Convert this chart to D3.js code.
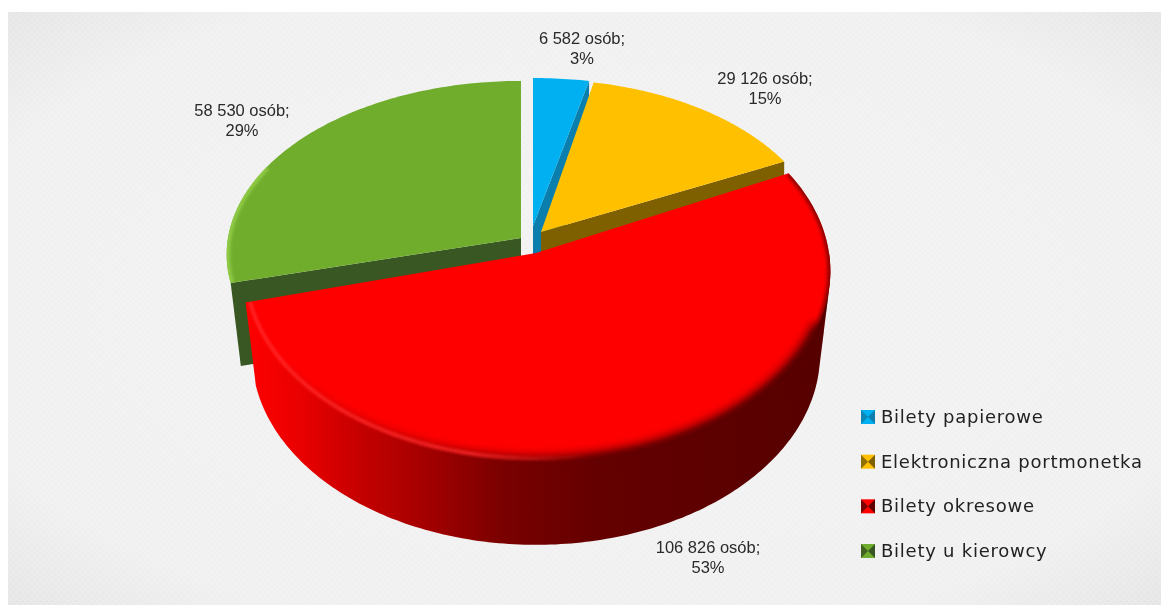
<!DOCTYPE html>
<html><head><meta charset="utf-8">
<script src="https://cdn.jsdelivr.net/npm/d3@7/dist/d3.min.js"></script>
<style>html,body{margin:0;padding:0;background:#fff;overflow:hidden}svg{display:block}</style>
</head><body><svg id="c" width="1161" height="605"></svg>
<script>
const categories = ["Bilety papierowe","Elektroniczna portmonetka","Bilety okresowe","Bilety u kierowcy"];
const values = [6582,29126,106826,58530];
const percentLabels = [3,15,53,29];
const faceColors = ["#00b0f0","#ffc000","#ff0000","#70ad2d"];
const wallColors = ["#0a7fae","#7f6000","#600000","#385723"];

// layout
const W=1161,H=605,k=0.095,T=83;
const geom=[
 {ax:533,ay:226,rx:300,ry:162,s:1},
 {ax:541,ay:232,rx:282,ry:167,s:1},
 {ax:536,ay:253,rx:293,ry:189,s:0.965},
 {ax:521,ay:238,rx:293,ry:172,s:0.965}];
const labelPos=[[582,38],[765,78],[708,547],[242,110]];
const legendX=861,legendY=d3.scalePoint().domain(categories).range([417,551]);

const svg=d3.select("#c"),defs=svg.append("defs");
const fmt=d3.formatLocale({decimal:",",thousands:" ",grouping:[3],currency:["","zł"]}).format(",d");
const arcs=d3.pie().sort(null).value(d=>d)(values);

function P(i,a,r,z){
  const g=geom[i],u=Math.sin(a)*r,v=Math.cos(a)*r,d=1+k*v,sc=z?g.s:1;
  return [g.ax+g.rx*u/d*sc, g.ay-g.ry*v/d+z*T];
}
const line=d3.line();
function rim(i,a0,a1,r,z){
  const n=Math.max(2,Math.ceil(Math.abs(a1-a0)*60));
  return d3.range(n+1).map(j=>P(i,a0+(a1-a0)*j/n,r,z));
}
const face=(i,d)=>line([P(i,0,0,0),...rim(i,d.startAngle,d.endAngle,1,0)])+"Z";
const cutWall=(i,a)=>line([P(i,a,0,0),P(i,a,1,0),P(i,a,1,1),P(i,a,0,1)])+"Z";
const sideWall=(i,d)=>{
  const a0=Math.max(d.startAngle,Math.PI/2);
  return line(d3.polygonHull([...rim(i,a0,d.endAngle,1,0),...rim(i,a0,d.endAngle,1,1)]))+"Z";
};

// background
const bg=defs.append("radialGradient").attr("id","bg").attr("cx","50%").attr("cy","50%").attr("r","75%");
[[0,"#f2f2f2"],[.75,"#f0f0f0"],[1,"#e2e2e2"]].forEach(s=>bg.append("stop").attr("offset",s[0]).attr("stop-color",s[1]));
const pat=defs.append("pattern").attr("id","dots").attr("width",6).attr("height",6).attr("patternUnits","userSpaceOnUse");
pat.append("rect").attr("width",3).attr("height",3).attr("fill","#fff").attr("opacity",.12);
pat.append("rect").attr("x",3).attr("y",3).attr("width",3).attr("height",3).attr("fill","#fff").attr("opacity",.12);
svg.append("rect").attr("width",W).attr("height",H).attr("fill","#fff");
svg.append("rect").attr("x",8).attr("y",12).attr("width",W-8).attr("height",H-12).attr("fill","url(#bg)");
svg.append("rect").attr("x",8).attr("y",12).attr("width",W-8).attr("height",H-12).attr("fill","url(#dots)");

// filters & gradients
const blur=(id,s)=>defs.append("filter").attr("id",id).attr("x","-10%").attr("y","-10%").attr("width","120%").attr("height","120%")
  .append("feGaussianBlur").attr("stdDeviation",s);
blur("b5",5); blur("b3",2); blur("b1",1.6); blur("bt",.5);
const wg=defs.append("linearGradient").attr("id","wall").attr("gradientUnits","userSpaceOnUse")
  .attr("x1",245).attr("x2",830).attr("y1",0).attr("y2",0);
[[0,"#ff0000"],[.1,"#e80000"],[.2,"#c40000"],[.27,"#b00000"],[.44,"#7a0000"],[.6,"#640000"],[1,"#560000"]]
  .forEach(s=>wg.append("stop").attr("offset",s[0]).attr("stop-color",s[1]));
const hg=defs.append("linearGradient").attr("id","hl").attr("gradientUnits","userSpaceOnUse")
  .attr("x1",245).attr("x2",590).attr("y1",0).attr("y2",0);
hg.append("stop").attr("offset",0).attr("stop-color","#ff2a2a");
hg.append("stop").attr("offset",.65).attr("stop-color","#ff2a2a");
hg.append("stop").attr("offset",1).attr("stop-color","#ff2a2a").attr("stop-opacity",0);

const G=svg.append("g");
const [dB,dY,dR,dK]=arcs;
// green
defs.append("clipPath").attr("id","greenClip").append("path").attr("d",face(3,dK));
G.append("path").attr("d",cutWall(3,dK.startAngle)).attr("fill",wallColors[3]);
G.append("path").attr("d",face(3,dK)).attr("fill",faceColors[3]);
G.append("g").attr("clip-path","url(#greenClip)").append("path").attr("d",line(rim(3,dK.startAngle,dK.startAngle+0.7,1,0))).attr("fill","none").attr("stroke","#8fca45").attr("stroke-width",7).attr("filter","url(#b1)");
// blue
G.append("path").attr("d",cutWall(0,dB.endAngle)).attr("fill",wallColors[0]);
G.append("path").attr("d",face(0,dB)).attr("fill",faceColors[0]);
// yellow
G.append("path").attr("d",cutWall(1,dY.endAngle)).attr("fill",wallColors[1]);
G.append("path").attr("d",face(1,dY)).attr("fill",faceColors[1]);
// red
const cl=defs.append("clipPath").attr("id","redClip");
cl.append("path").attr("d",sideWall(2,dR));
cl.append("path").attr("d",face(2,dR));
G.append("path").attr("d",sideWall(2,dR)).attr("fill","url(#wall)");
G.append("path").attr("d",face(2,dR)).attr("fill",faceColors[2]);
const rg=G.append("g").attr("clip-path","url(#redClip)");
rg.append("path").attr("d",line(rim(2,dR.startAngle,dR.endAngle,1,0))).attr("fill","none")
  .attr("stroke","url(#wall)").attr("stroke-width",4).attr("filter","url(#b3)");
rg.append("path").attr("d",line(rim(2,Math.PI*0.62,Math.PI*1.3,1.0,0))).attr("fill","none")
  .attr("stroke","url(#wall)").attr("stroke-width",12).attr("filter","url(#b5)");
rg.append("path").attr("d",line(rim(2,Math.PI*0.9,dR.endAngle,0.985,0))).attr("fill","none")
  .attr("stroke","url(#hl)").attr("stroke-width",3).attr("filter","url(#b1)");

// labels
const lab=svg.append("g").attr("filter","url(#bt)").attr("font-family","'Liberation Sans',Arial,sans-serif")
  .attr("font-size",16.5).attr("fill","#2a2a2a").attr("text-anchor","middle");
values.forEach((v,i)=>{
  const t=lab.append("text").attr("x",labelPos[i][0]).attr("y",labelPos[i][1]+6);
  t.append("tspan").attr("x",labelPos[i][0]).text(fmt(v)+" osób;");
  t.append("tspan").attr("x",labelPos[i][0]).attr("dy",20).text(percentLabels[i]+"%");
});

// legend
const leg=svg.append("g");
categories.forEach((c,i)=>{
  const y=legendY(c),x=legendX,s=14;
  const g=leg.append("g").attr("transform",`translate(${x},${y-7})`).attr("filter","url(#bt)");
  g.append("rect").attr("width",s).attr("height",s).attr("fill",faceColors[i]);
  g.append("path").attr("d",line([[0,0],[s/2,s/2],[0,s]])+"Z").attr("fill",wallColors[i]).attr("opacity",.85);
  g.append("path").attr("d",line([[s,0],[s/2,s/2],[s,s]])+"Z").attr("fill",wallColors[i]);
  leg.append("text").attr("x",881).attr("y",y+6).attr("font-family","'DejaVu Sans',sans-serif")
    .attr("font-size",18).attr("letter-spacing",.75).attr("fill","#222").attr("filter","url(#bt)").text(c);
});
</script></body></html>
